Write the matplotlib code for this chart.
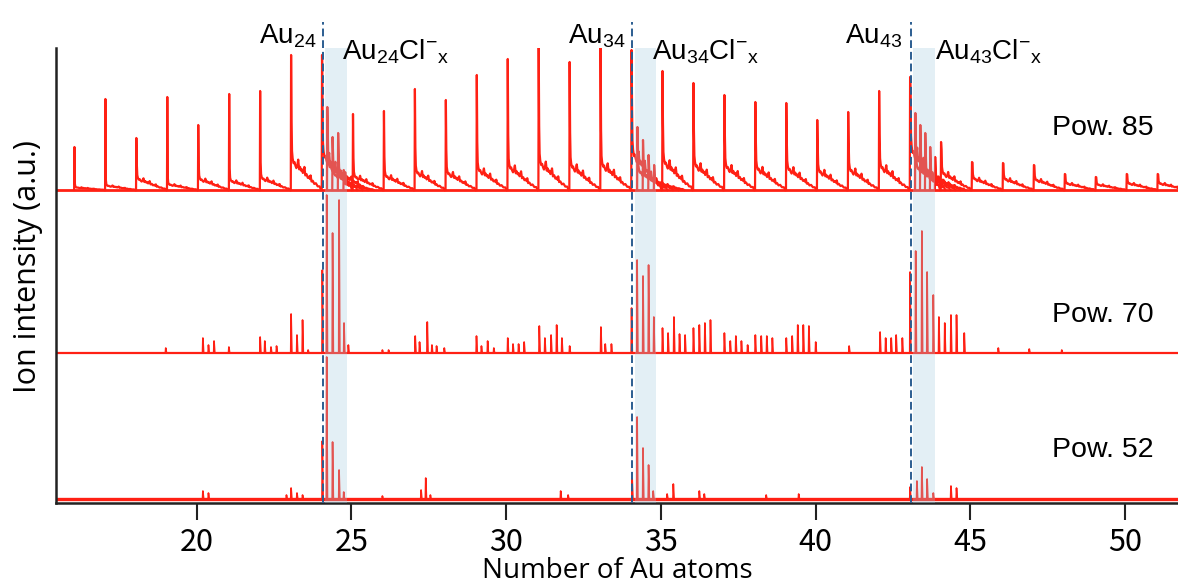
import numpy as np
import matplotlib.pyplot as plt

plt.rcParams['mathtext.fontset'] = 'custom'
plt.rcParams['mathtext.rm'] = 'Liberation Sans'
plt.rcParams['mathtext.it'] = 'Liberation Sans:italic'
plt.rcParams['mathtext.bf'] = 'Liberation Sans:bold'

# --- data (heights in arbitrary units) ---
# Pow. 85: Au_n peaks with decaying tails
pow85_atoms = list(range(16, 52))
pow85_height = [43, 91, 52, 93, 65, 96, 99, 135, 135, 76, 79, 101, 90, 115, 131, 142, 128, 142,
                140, 119, 107, 95, 88, 87, 70, 78, 99, 113, 48, 28, 27, 25, 16, 13, 16, 16]
pow85_tail = [0.05, 0.04, 0.18, 0.05, 0.14, 0.08, 0.1, 0.18, 0.22, 0.15, 0.15, 0.15, 0.16, 0.15, 0.15, 0.16, 0.16, 0.15,
              0.22, 0.2, 0.2, 0.21, 0.21, 0.21, 0.23, 0.22, 0.2, 0.3, 0.3, 0.35, 0.35, 0.35, 0.35, 0.35, 0.35, 0.35]
# Au_nCl_x groups in Pow. 85
pow85_cl_x = [24.22, 24.39, 24.57, 24.75, 34.24, 34.42, 34.6, 34.78, 43.22, 43.38, 43.54, 43.7, 43.86]
pow85_cl_h = [83, 53, 57, 20, 63, 50, 35, 25, 77, 65, 57, 43, 33]

# Pow. 70
pow70_x = [19.0, 20.2, 20.38, 20.56, 21.04, 22.05, 22.2, 22.4, 22.58, 23.05, 23.24, 23.42, 23.6,
           24.06, 24.2, 24.39, 24.6, 24.76, 24.9, 26.0, 26.2,
           27.06, 27.2, 27.45, 27.6, 27.75, 28.0, 29.04, 29.2, 29.4, 29.6, 30.05, 30.22, 30.4, 30.58,
           31.07, 31.25, 31.45, 31.63, 31.8, 32.05, 33.06, 33.2, 33.4,
           34.05, 34.23, 34.42, 34.6, 34.77, 35.05, 35.23, 35.42, 35.6, 35.78,
           36.05, 36.24, 36.42, 36.6, 37.05, 37.24, 37.42, 37.6, 37.8,
           38.05, 38.24, 38.42, 38.6, 39.05, 39.24, 39.42, 39.6, 39.78, 40.0, 41.08,
           42.08, 42.26, 42.44, 42.6, 42.8, 43.05, 43.23, 43.43, 43.6, 43.8, 43.98,
           44.17, 44.37, 44.55, 44.8, 45.9, 46.9, 47.95]
pow70_h = [5, 15, 8, 12, 6, 16, 12, 6, 7, 39, 18, 33, 3,
           83, 158, 120, 153, 30, 8, 3, 3,
           17, 11, 31, 8, 7, 5, 17, 7, 12, 5, 15, 9, 9, 11,
           27, 15, 18, 28, 15, 7, 26, 9, 9,
           45, 93, 77, 88, 36, 25, 20, 36, 19, 18,
           25, 28, 30, 33, 20, 12, 17, 12, 8,
           18, 17, 17, 15, 15, 17, 28, 28, 27, 11, 7,
           21, 15, 15, 18, 15, 81, 102, 122, 81, 58, 36,
           30, 38, 38, 20, 5, 4, 3]

# Pow. 52
pow52_x = [20.2, 20.38, 22.9, 23.05, 23.24, 23.42, 24.06, 24.2, 24.39, 24.6, 24.75, 26.0, 27.25, 27.4,
           27.55, 31.76, 32.0, 34.07, 34.23, 34.42, 34.6, 34.75, 35.2, 35.4, 36.24, 36.4, 38.4, 39.45,
           43.05, 43.27, 43.43, 43.6, 43.8, 44.37, 44.55]
pow52_h = [8, 6, 4, 11, 6, 4, 58, 142, 57, 29, 7, 3, 9, 21,
           4, 8, 4, 20, 82, 51, 34, 8, 5, 15, 8, 5, 4, 5,
           12, 18, 32, 20, 6, 13, 11]

power_labels = ['Pow. 85', 'Pow. 70', 'Pow. 52']
magic_atoms = [24, 34, 43]
au_label_x = [23.88, 33.85, 42.78]
cl_label_x = [24.71, 34.70, 43.85]

# --- style ---
RED = '#ff2014'
BOX = '#a5cde1'
DASH = '#2b5d91'
base85, base70, base52 = 313, 150, 4
PEAK_SHIFT = 0.05  # peak centres sit slightly right of the integer ticks
# tail profile after each Pow. 85 peak (relative to the level at +0.14)
TAIL_DX = np.array([0.015, 0.03, 0.05, 0.08, 0.11, 0.14, 0.17, 0.2, 0.23, 0.26, 0.29, 0.32, 0.35, 0.38,
                    0.41, 0.43, 0.46, 0.5, 0.54, 0.58, 0.61, 0.63, 0.66, 0.7, 0.75, 0.8, 0.86, 0.92, 0.97])
TAIL_K = np.array([2.8, 1.6, 1.3, 1.1, 1.15, 1.0, 0.9, 1.0, 1.25, 0.85, 0.95, 0.8, 0.85, 0.7,
                   0.8, 0.95, 0.6, 0.65, 0.5, 0.55, 0.45, 0.6, 0.35, 0.38, 0.25, 0.28, 0.15, 0.15, 0.0])


def tailed_peak(ax, x, h, t, base):
    xs = np.concatenate([[x - 0.01, x], x + TAIL_DX])
    ys = base + np.concatenate([[0, h], np.minimum(h * t * TAIL_K, h)])
    ax.plot(xs, ys, color=RED, lw=1.6, zorder=2)


def sticks(ax, xs, hs, base):
    for x, h in zip(xs, hs):
        ax.plot([x - 0.012, x, x + 0.025], [base, base + h, base], color=RED, lw=1.2, zorder=2)


fig = plt.figure(figsize=(11.78, 5.86), dpi=100)
ax = fig.add_axes([56 / 1178, 83 / 586, 1122 / 1178, 455 / 586])
ax.set_xlim(15.454, 51.706)
ax.set_ylim(0, 455)

# baselines
for b, lw in [(base85, 2.0), (base70, 1.6), (base52, 2.4)]:
    ax.axhline(b, color=RED, lw=lw, zorder=2)

for n, h, t in zip(pow85_atoms, pow85_height, pow85_tail):
    tailed_peak(ax, n + PEAK_SHIFT, h, t, base85)
for x, h in zip(pow85_cl_x, pow85_cl_h):
    tailed_peak(ax, x, h, 0.25, base85)
sticks(ax, pow70_x, pow70_h, base70)
sticks(ax, pow52_x, pow52_h, base52)

# Au_nCl_x bands and Au_n markers
for n, xa, xc in zip(magic_atoms, au_label_x, cl_label_x):
    ax.axvspan(n + 0.15, n + 0.85, color=BOX, alpha=0.3, lw=0, zorder=3)
    ax.plot([n + 0.07, n + 0.07], [0, 481], ls=(0, (4, 2)), color=DASH, lw=1.4, clip_on=False, zorder=4)
    ax.text(xa, 459, 'Au$_{%d}$' % n, ha='right', va='baseline', fontsize=20,
            family='Liberation Sans')
    ax.text(xc, 444, r'Au$_{%d}$Cl$^{-}{}_{\mathrm{x}}$' % n, ha='left', va='baseline', fontsize=20,
            family='Liberation Sans')

for lab, yb in zip(power_labels, [368, 181, 46]):
    ax.text(47.65, yb, lab, ha='left', va='baseline', fontsize=20.5, family='Liberation Sans')

# axes
for s in ['top', 'right']:
    ax.spines[s].set_visible(False)
for s in ['left', 'bottom']:
    ax.spines[s].set_linewidth(1.8)
    ax.spines[s].set_color('#222222')
ax.set_yticks([])
ax.set_xticks([20, 25, 30, 35, 40, 45, 50])
ax.tick_params(axis='x', length=12, width=1.5, pad=5, labelsize=22, color='#222222')
for lab in ax.get_xticklabels():
    lab.set_family('Noto Sans CJK JP')
ax.set_xlabel('Number of Au atoms', fontsize=20, family='Open Sans')
ax.xaxis.set_label_coords(0.5, -0.118)
fig.text(28 / 1178, 1 - 267 / 586, 'Ion intensity (a.u.)', rotation=90, ha='center', va='center',
         fontsize=22, family='Open Sans')

fig.savefig('out.png', dpi=100)
